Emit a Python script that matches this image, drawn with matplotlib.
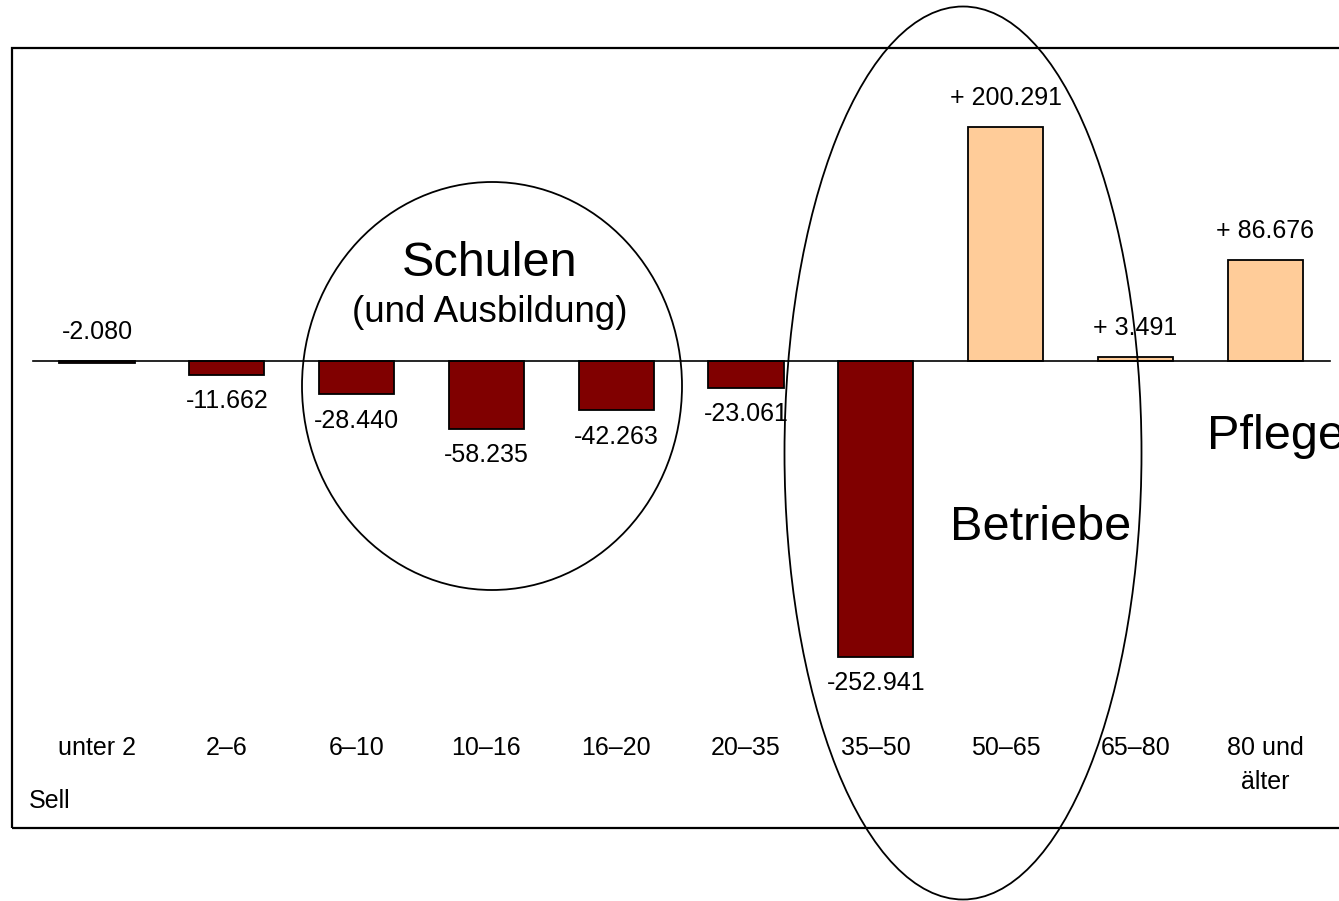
import matplotlib
matplotlib.use("Agg")
import matplotlib.pyplot as plt
from matplotlib.patches import Ellipse, Rectangle

plt.rcParams['font.family'] = ['Liberation Sans', 'DejaVu Sans']

categories = ["unter 2", "2\u20136", "6\u201310", "10\u201316", "16\u201320", "20\u201335",
              "35\u201350", "50\u201365", "65\u201380", "80 und\n\u00e4lter"]
values = [-2.080, -11.662, -28.440, -58.235, -42.263, -23.061,
          -252.941, 200.291, 3.491, 86.676]
value_labels = ["-2.080", "-11.662", "-28.440", "-58.235", "-42.263", "-23.061",
                "-252.941", "+ 200.291", "+ 3.491", "+ 86.676"]

W, H = 1339, 901
fig = plt.figure(figsize=(W / 100, H / 100), dpi=100)
ax = fig.add_axes([0, 0, 1, 1])
ax.set_axis_off()

# pixel mapping: centre of bar i at 97 + 129.8 i, baseline at y=361, 1.169 px per unit
x0 = 97.0
px_per_x = 129.8
px_per_y = 1.169
ax.set_xlim(-x0 / px_per_x, (W - x0) / px_per_x)
ax.set_ylim(-(H - 361) / px_per_y, 361 / px_per_y)

def fx(x):
    return x / W

def fy(y):
    return 1 - y / H

# frame
fig.patches.append(Rectangle((fx(12), fy(828)), fx(1400) - fx(12), fy(48) - fy(828),
                             transform=fig.transFigure, fill=False, edgecolor='black',
                             linewidth=1.6, zorder=0))

colors = ['#800000' if v < 0 else '#FFCC99' for v in values]
xs = list(range(len(categories)))
ax.bar(xs, values, width=0.578, color=colors, edgecolor='black', linewidth=1.3, zorder=3)

# baseline
ax.plot([fx(33), fx(1330)], [fy(361), fy(361)], transform=fig.transFigure,
        color='black', linewidth=1.2, zorder=4)

for i, (v, lab) in enumerate(zip(values, value_labels)):
    if v < 0 and i != 0:
        ax.annotate(lab, (i, v), xytext=(0, -19), textcoords='offset points',
                    ha='center', va='center', fontsize=18, zorder=5)
    else:
        top = max(v, 0)
        ax.annotate(lab, (i, top), xytext=(0, 21), textcoords='offset points',
                    ha='center', va='center', fontsize=18, zorder=5)

# category labels
for i, c in enumerate(categories):
    lines = c.split('\n')
    for j, ln in enumerate(lines):
        ax.text(i, -((748 + 34 * j) - 361) / px_per_y, ln, ha='center', va='center',
                fontsize=18, zorder=5)

fig.text(fx(29), fy(801), "Sell", ha='left', va='center', fontsize=18)

# annotations: ellipses and labels
fig.patches.append(Ellipse((fx(492), fy(386)), 380 / W, 408 / H, transform=fig.transFigure,
                           fill=False, edgecolor='black', linewidth=1.3, zorder=6))
fig.patches.append(Ellipse((fx(963), fy(453)), 357 / W, 893 / H, transform=fig.transFigure,
                           fill=False, edgecolor='black', linewidth=1.3, zorder=6))

fig.text(fx(490), fy(263), "Schulen", ha='center', va='center', fontsize=35)
fig.text(fx(490), fy(312), "(und Ausbildung)", ha='center', va='center', fontsize=26.5)
fig.text(fx(1041), fy(528), "Betriebe", ha='center', va='center', fontsize=35)
fig.text(fx(1207), fy(436), "Pflege", ha='left', va='center', fontsize=35)

fig.savefig("out.png", dpi=100)
